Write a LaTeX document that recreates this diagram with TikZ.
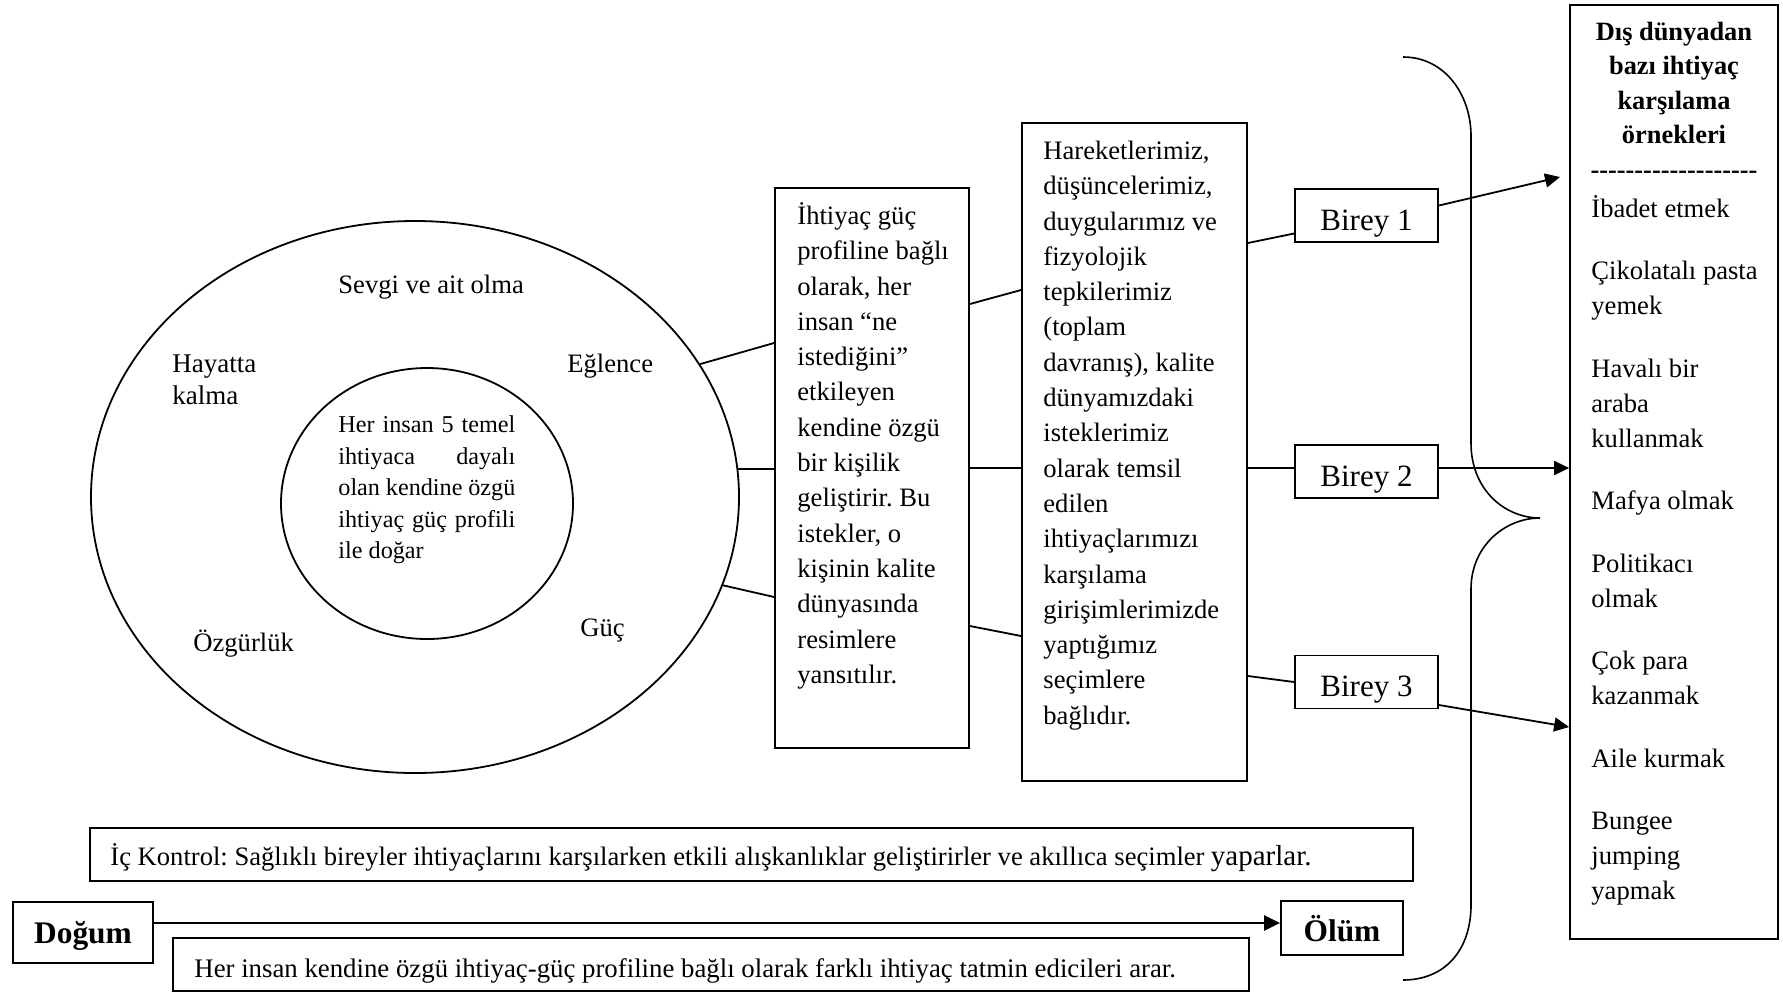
\documentclass[tikz,border=0pt]{standalone}
\usepackage{fontspec}
\setmainfont{Liberation Serif}
\usetikzlibrary{shapes.geometric,arrows.meta}
\frenchspacing
\newcommand\fbody{\fontsize{13.3pt}{17.65pt}\selectfont}
\newcommand\fitem{\fontsize{13.3pt}{17.5pt}\selectfont}
\newcommand\finner{\fontsize{12.1pt}{15.8pt}\selectfont}
\newcommand\fhk{\fontsize{13.5pt}{16pt}\selectfont}
\newcommand\fbig{\fontsize{15.5pt}{18pt}\selectfont}
\newcommand\fbigb{\fontsize{15.7pt}{18pt}\selectfont\bfseries}
\newcommand\ftitle{\fontsize{13.2pt}{17.25pt}\selectfont\bfseries}
\newcommand\hy{\mbox{-}}
\newcommand\jl[1]{\makebox[88.5pt][s]{#1}}
\begin{document}
\begin{tikzpicture}[x=0.5pt,y=-0.5pt,
  box/.style={draw,line width=0.9pt,inner sep=0pt},
  ring/.style={draw,ellipse,line width=0.9pt,inner sep=0pt},
  lbl/.style={inner sep=0pt,anchor=base west,font=\fbody},
  para/.style={inner sep=0pt,anchor=north west,align=left},
  bir/.style={box,minimum width=71.5pt,minimum height=26.5pt,font=\fbig,text height=14.7pt,text depth=0pt},
  conn/.style={line width=0.9pt},
  arr/.style={line width=0.9pt,-{Triangle[length=7.5pt,width=7pt]}},
]
\useasboundingbox (0,0) rectangle (1783,992);

% circles
\node[ring,minimum width=324pt,minimum height=276pt] (outer) at (415,497) {};
\node[ring,minimum width=146pt,minimum height=135.5pt] (inner) at (427,503.5) {};
\node[lbl] (sevgi) at (338,293) {Sevgi ve ait olma};
\node[para,font=\fhk] (hayat) at (172,349.6) {\strut Hayatta\\kalma};
\node[lbl] (eglence) at (567,372) {Eğlence};
\node[lbl] (ozgur) at (193,651) {Özgürlük};
\node[lbl] (guc) at (580,636) {Güç};
\node[para,font=\finner] (itext) at (338,409.9) {\strut\jl{Her insan 5 temel}\\\jl{ihtiyaca dayalı}\\\jl{olan kendine özgü}\\\jl{ihtiyaç güç profili}\\ile doğar};

% box 1
\node[box,minimum width=97pt,minimum height=280pt] (b1) at (872,468) {};
\node[para,font=\fbody] (t1) at (797,199.3) {\strut İhtiyaç güç\\profiline bağlı\\olarak, her\\insan “ne\\istediğini”\\etkileyen\\kendine özgü\\bir kişilik\\geliştirir. Bu\\istekler, o\\kişinin kalite\\dünyasında\\resimlere\\yansıtılır.};

% box 2
\node[box,minimum width=112.5pt,minimum height=329pt] (b2) at (1134.5,452) {};
\node[para,font=\fbody] (t2) at (1043,134.3) {\strut Hareketlerimiz,\\düşüncelerimiz,\\duygularımız ve\\fizyolojik\\tepkilerimiz\\(toplam\\davranış), kalite\\dünyamızdaki\\isteklerimiz\\olarak temsil\\edilen\\ihtiyaçlarımızı\\karşılama\\girişimlerimizde\\yaptığımız\\seçimlere\\bağlıdır.};

% birey boxes
\node[bir] (r1) at (1366.5,215.5) {Birey 1};
\node[bir] (r2) at (1366.5,471.5) {Birey 2};
\node[bir] (r3) at (1366.5,682) {Birey 3};

% right box
\node[box,minimum width=104pt,minimum height=467pt] (ex) at (1674,472) {};
\node[inner sep=0pt,anchor=north,align=center,font=\ftitle] (ttl) at (1674,15.9) {\strut Dış dünyadan\\bazı ihtiyaç\\karşılama\\örnekleri\\\hy\hy\hy\hy\hy\hy\hy\hy\hy\hy\hy\hy\hy\hy\hy\hy\hy\hy\hy};
\node[para,font=\fitem] (items) at (1591,192.5) {\strut İbadet etmek\\[13.75pt]Çikolatalı pasta\\yemek\\[13.75pt]Havalı bir\\araba\\kullanmak\\[13.75pt]Mafya olmak\\[13.75pt]Politikacı\\olmak\\[13.75pt]Çok para\\kazanmak\\[13.75pt]Aile kurmak\\[13.75pt]Bungee\\jumping\\yapmak};

% bottom
\node[box,minimum width=661.5pt,minimum height=26.5pt] (ic) at (751.5,854.5) {};
\node[lbl] (ictext) at (110,865) {İç Kontrol: Sağlıklı bireyler ihtiyaçlarını karşılarken etkili alışkanlıklar geliştirirler ve akıllıca seçimler {\fontsize{14.5pt}{17pt}\selectfont yaparlar.}};
\node[box,minimum width=70pt,minimum height=30.5pt,font=\fbigb,text height=10.6pt,text depth=0pt] (dog) at (83,932.5) {Doğum};
\node[box,minimum width=61pt,minimum height=27pt,font=\fbigb,text height=13.6pt,text depth=0pt] (olum) at (1342,928) {Ölüm};
\node[box,minimum width=538pt,minimum height=26.5pt] (her) at (711,964.5) {};
\node[lbl,font=\fontsize{13.4pt}{17pt}\selectfont] (hertext) at (194,977) {Her insan kendine özgü ihtiyaç-güç profiline bağlı olarak farklı ihtiyaç tatmin edicileri arar.};
\coordinate (dA) at ([yshift=4.75pt]dog.east);
\draw[line width=1.3pt,-{Triangle[length=8pt,width=7.5pt]}] (dA) -- (dA -| olum.west);

% connectors
\draw[conn] (outer.25) -- ([yshift=62.5pt]b1.west);
\draw[conn] (outer.5) -- (outer.5 -| b1.west);
\draw[conn] (outer.-16) -- ([yshift=-64.5pt]b1.west);
\draw[conn] ([yshift=82pt]b1.east) -- ([yshift=81pt]b2.west);
\draw[conn] (b1.east) -- (b1.east -| b2.west);
\draw[conn] ([yshift=-79pt]b1.east) -- ([yshift=-92pt]b2.west);
\draw[conn] ([yshift=104.5pt]b2.east) -- ([yshift=-9pt]r1.west);
\draw[conn] (b2.east |- b1.east) -- (r2.west |- b1.east);
\draw[conn] ([yshift=-112pt]b2.east) -- (r3.west);
\coordinate (a1) at (1560,177);
\draw[arr] ([yshift=5pt]r1.east) -- (a1);
\draw[arr] (r2.east |- b1.east) -- (ex.west |- b1.east);
\draw[arr] ([yshift=-11.5pt]r3.east) -- ([yshift=-127.5pt]ex.west);

% brace
\draw[line width=0.8pt] (1403,57) .. controls (1445,57) and (1471,95) .. (1471,136) -- (1471,443) .. controls (1471,490) and (1505,518) .. (1540,518) .. controls (1505,518) and (1471,546) .. (1471,589) -- (1471,905) .. controls (1471,950) and (1445,980) .. (1403,980);
\end{tikzpicture}
\end{document}
